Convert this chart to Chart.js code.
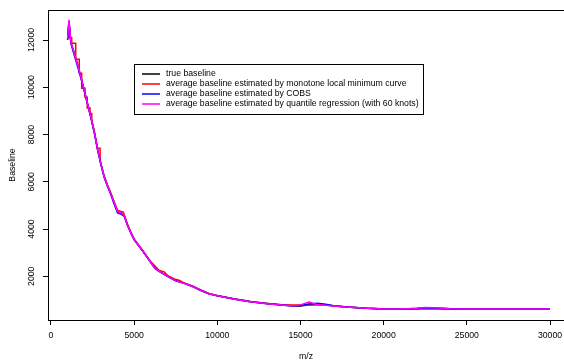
<!DOCTYPE html>
<html>
<head>
<meta charset="utf-8">
<script src="https://cdn.jsdelivr.net/npm/chart.js@4/dist/chart.umd.min.js"></script>
<style>
  html, body { margin: 0; padding: 0; background: #fff; }
  canvas { display: block; }
</style>
</head>
<body>
<canvas id="baseline-chart" width="564" height="360"></canvas>
<script>
const mz = [1000, 1080, 1200, 1400, 1600, 1800, 2000, 2200, 2400, 2600,
  2800, 3000, 3200, 3400, 3600, 3800, 4000, 4200, 4400, 4600,
  4800, 5000, 5250, 5500, 5750, 6000, 6250, 6500, 7000, 7500,
  8000, 8500, 9000, 9500, 10000, 11000, 12000, 13000, 14000, 14500,
  15000, 15500, 16000, 16500, 17000, 18000, 19000, 20000, 21000, 22000,
  22500, 23000, 24000, 25000, 26000, 27000, 28000, 29000, 30000];

const trueBaseline = [12070, 12800, 11880, 11450, 10970, 10440, 9880, 9300, 8740, 8120,
  7380, 6770, 6210, 5830, 5490, 5120, 4760, 4700, 4580, 4170,
  3850, 3560, 3320, 3090, 2840, 2590, 2340, 2220, 2010, 1820,
  1710, 1580, 1410, 1260, 1180, 1040, 925, 845, 780, 750,
  740, 800, 840, 800, 745, 690, 645, 620, 615, 640,
  660, 655, 630, 620, 618, 615, 615, 615, 615];

const cobs = [12000, 12750, 11850, 11350, 10880, 10380, 9840, 9270, 8700, 8080,
  7350, 6740, 6180, 5800, 5450, 5050, 4680, 4640, 4540, 4150,
  3830, 3540, 3310, 3080, 2830, 2580, 2330, 2210, 2000, 1810,
  1700, 1570, 1400, 1255, 1175, 1035, 920, 840, 775, 745,
  760, 830, 860, 820, 750, 690, 645, 620, 615, 635,
  655, 650, 628, 620, 618, 615, 615, 615, 615];

const quantileReg = [12050, 12850, 11900, 11420, 10950, 10430, 9870, 9290, 8730, 8110,
  7370, 6760, 6200, 5820, 5480, 5100, 4740, 4700, 4570, 4160,
  3840, 3550, 3315, 3085, 2835, 2585, 2335, 2215, 2005, 1815,
  1705, 1575, 1405, 1258, 1178, 1040, 922, 842, 778, 748,
  790, 910, 810, 770, 740, 688, 643, 618, 613, 645,
  680, 665, 630, 620, 618, 615, 615, 615, 615];

// monotone local minimum curve: a staircase on the steep part, its own m/z grid
const monotoneMz = [1000, 1245, 1245, 1485, 1485, 1700, 1700, 1845, 1845, 2045,
  2045, 2180, 2180, 2345, 2345, 2450, 2450, 2600, 2800, 2950,
  2950, 3050, 3200, 3400, 3600, 3800, 4000, 4350, 4400, 4600,
  4800, 5000, 5500, 6000, 6500, 6800, 7000, 7500, 7700, 8000,
  8500, 9000, 9500, 10000, 11000, 12000, 13000, 14000, 14500, 15000,
  16000, 16700, 17000, 18000, 19000, 20000, 22000, 25000, 30000];

const monotoneMin = [12100, 12100, 11860, 11860, 11190, 11190, 10590, 10590, 9960, 9960,
  9580, 9580, 9120, 9120, 8890, 8890, 8560, 8150, 7420, 7420,
  6880, 6620, 6240, 5850, 5510, 5140, 4780, 4720, 4600, 4200,
  3870, 3580, 3100, 2610, 2250, 2190, 2040, 1860, 1830, 1720,
  1590, 1420, 1270, 1185, 1045, 930, 850, 785, 780, 780,
  780, 775, 745, 690, 645, 622, 620, 618, 615];

const seriesNames = [
  "true baseline",
  "average baseline estimated by monotone local minimum curve",
  "average baseline estimated by COBS",
  "average baseline estimated by quantile regression (with 60 knots)"
];
const seriesColors = ["#000000", "#ff0000", "#0000ff", "#ff00ff"];

const xTicks = [0, 5000, 10000, 15000, 20000, 25000, 30000];
const yTicks = [2000, 4000, 6000, 8000, 10000, 12000];

const FONT = "'Liberation Sans', Arial, Helvetica, sans-serif";
const FONT_SIZE = 8.7;

function toPoints(xs, values) {
  return values.map((v, i) => ({ x: xs[i], y: v }));
}

// legend box inside the plot, like R's legend()
const boxLegend = {
  id: "boxLegend",
  afterDraw(chart) {
    const ctx = chart.ctx;
    ctx.save();
    ctx.strokeStyle = "#000";
    ctx.lineWidth = 1;
    ctx.strokeRect(134.5, 64.5, 289, 50);
    ctx.font = FONT_SIZE + "px " + FONT;
    ctx.textBaseline = "middle";
    ctx.fillStyle = "#000";
    seriesNames.forEach((name, i) => {
      const y = 74 + i * 10;
      ctx.strokeStyle = seriesColors[i];
      ctx.lineWidth = 1.5;
      ctx.beginPath();
      ctx.moveTo(142, y);
      ctx.lineTo(160, y);
      ctx.stroke();
      ctx.fillText(name, 166, y);
    });
    ctx.restore();
  }
};

// top side of the plot box
const topBorder = {
  id: "topBorder",
  afterDraw(chart) {
    const { ctx, chartArea } = chart;
    ctx.save();
    ctx.strokeStyle = "#000";
    ctx.lineWidth = 1;
    ctx.beginPath();
    ctx.moveTo(chartArea.left, chartArea.top + 0.5);
    ctx.lineTo(chart.width, chartArea.top + 0.5);
    ctx.stroke();
    ctx.restore();
  }
};

const seriesData = [
  toPoints(mz, trueBaseline),
  toPoints(monotoneMz, monotoneMin),
  toPoints(mz, cobs),
  toPoints(mz, quantileReg),
];

const datasets = seriesData.map((pts, i) => ({
  label: seriesNames[i],
  data: pts,
  borderColor: seriesColors[i],
  backgroundColor: seriesColors[i],
  borderWidth: 1.5,
  pointRadius: 0,
  tension: 0,
  order: 4 - i,
}));

const plainLabel = (v) => String(v);

new Chart(document.getElementById("baseline-chart"), {
  type: "line",
  data: { datasets },
  plugins: [boxLegend, topBorder],
  options: {
    responsive: false,
    animation: false,
    devicePixelRatio: 1,
    layout: { padding: { top: 10, right: 0, bottom: 0, left: 0 } },
    plugins: {
      legend: { display: false },
      tooltip: { enabled: false },
    },
    scales: {
      x: {
        type: "linear",
        min: -180,
        max: 30840,
        afterBuildTicks: (s) => { s.ticks = xTicks.map((v) => ({ value: v })); },
        afterFit: (s) => {
          s.height = 40;
          s.paddingLeft = 0;
          s.paddingRight = 0;
        },
        grid: { drawOnChartArea: false, drawTicks: true, tickLength: 5, color: "#000" },
        border: { display: true, color: "#000", width: 1 },
        ticks: {
          autoSkip: false, maxRotation: 0, padding: 5, color: "#000",
          font: { family: FONT, size: FONT_SIZE },
          callback: plainLabel,
        },
        title: {
          display: true, text: "m/z", color: "#000",
          font: { family: FONT, size: FONT_SIZE },
          padding: { top: 0, bottom: -2 },
        },
      },
      y: {
        type: "linear",
        min: 150,
        max: 13270,
        afterBuildTicks: (s) => { s.ticks = yTicks.map((v) => ({ value: v })); },
        afterFit: (s) => {
          s.width = 48;
          s.paddingTop = 0;
          s.paddingBottom = 0;
        },
        grid: { drawOnChartArea: false, drawTicks: true, tickLength: 5, color: "#000" },
        border: { display: true, color: "#000", width: 1 },
        ticks: {
          autoSkip: false, minRotation: 90, maxRotation: 90, crossAlign: "center",
          padding: -1, color: "#000",
          font: { family: FONT, size: FONT_SIZE },
          callback: plainLabel,
        },
        title: {
          display: true, text: "Baseline", color: "#000",
          font: { family: FONT, size: FONT_SIZE },
          padding: { top: 7, bottom: 0 },
        },
      },
    },
  },
});
</script>
</body>
</html>
